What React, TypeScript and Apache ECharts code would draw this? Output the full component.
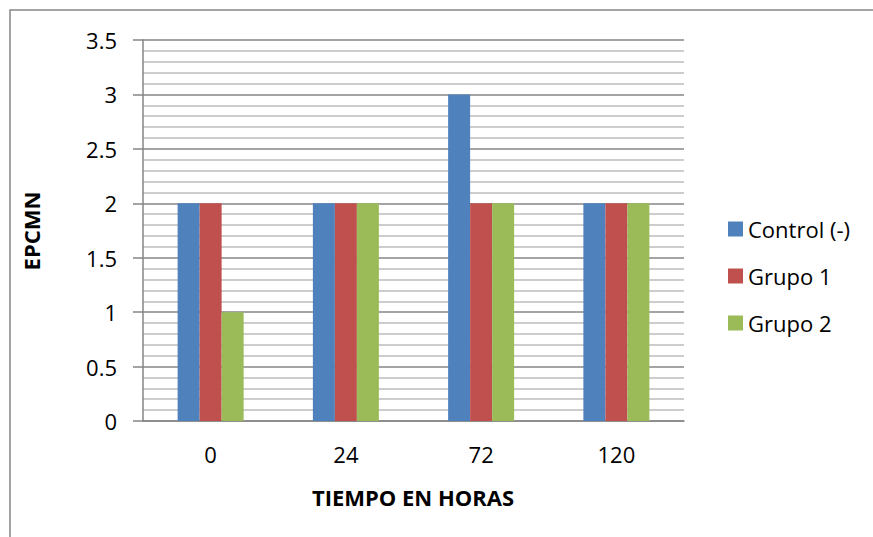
import React, { useEffect, useRef } from "react";
import * as echarts from "echarts";

const categories = ["0", "24", "72", "120"];
const controlValues = [2, 2, 3, 2];
const grupo1Values = [2, 2, 2, 2];
const grupo2Values = [1, 2, 2, 2];
const seriesNames = ["Control (-)", "Grupo 1", "Grupo 2"];
const colors = ["#4F81BD", "#C0504D", "#9BBB59"];
const FONT = "'Open Sans', sans-serif";

export default function App() {
  const ref = useRef<HTMLDivElement>(null);
  useEffect(() => {
    if (!ref.current) return;
    const chart = echarts.init(ref.current, null, { renderer: "svg" });
    const data = [controlValues, grupo1Values, grupo2Values];
    chart.setOption({
      animation: false,
      backgroundColor: "#ffffff",
      textStyle: { fontFamily: FONT },
      grid: { left: 143, right: 189, top: 40, bottom: 116, containLabel: false },
      xAxis: {
        type: "category",
        data: categories,
        axisLine: { show: true, lineStyle: { color: "#868686", width: 1.5 } },
        axisTick: { show: false },
        axisLabel: { color: "#000", fontSize: 22, margin: 22, fontFamily: FONT },
      },
      yAxis: {
        type: "value",
        min: 0,
        max: 3.5,
        interval: 0.5,
        axisLine: { show: true, lineStyle: { color: "#868686", width: 1.5 } },
        axisTick: { show: true, length: 10, lineStyle: { color: "#868686", width: 1.5 } },
        axisLabel: { color: "#000", fontSize: 22, margin: 26, fontFamily: FONT },
        splitLine: { show: true, lineStyle: { color: "#868686", width: 1.5 } },
        minorTick: { show: false, splitNumber: 5 },
        minorSplitLine: { show: true, lineStyle: { color: "#BDBDBD", width: 1.5 } },
      },
      legend: {
        orient: "vertical",
        left: 723,
        top: 213,
        itemWidth: 15,
        itemHeight: 15,
        itemGap: 25,
        icon: "rect",
        textStyle: { color: "#000", fontSize: 22, fontFamily: FONT },
        data: seriesNames,
      },
      series: seriesNames.map((name, i) => ({
        name,
        type: "bar",
        data: data[i],
        barWidth: 22,
        barGap: "0%",
        itemStyle: { color: colors[i] },
      })),
      graphic: [
        {
          type: "rect",
          shape: { x: 10, y: 10, width: 900, height: 700 },
          style: { fill: "none", stroke: "#868686", lineWidth: 1.5 },
          silent: true,
        },
        {
          type: "text",
          x: 413,
          y: 497,
          style: {
            text: "TIEMPO EN HORAS",
            font: `bold 22px ${FONT}`,
            fill: "#000",
            textAlign: "center",
            textVerticalAlign: "middle",
          },
        },
        {
          type: "text",
          x: 31,
          y: 231,
          rotation: Math.PI / 2,
          style: {
            text: "EPCMN",
            font: `bold 22px ${FONT}`,
            fill: "#000",
            textAlign: "center",
            textVerticalAlign: "middle",
          },
        },
      ],
    });
    return () => chart.dispose();
  }, []);
  return (
    <div
      ref={ref}
      style={{ position: "absolute", left: 0, top: 0, width: 873, height: 537 }}
    />
  );
}
